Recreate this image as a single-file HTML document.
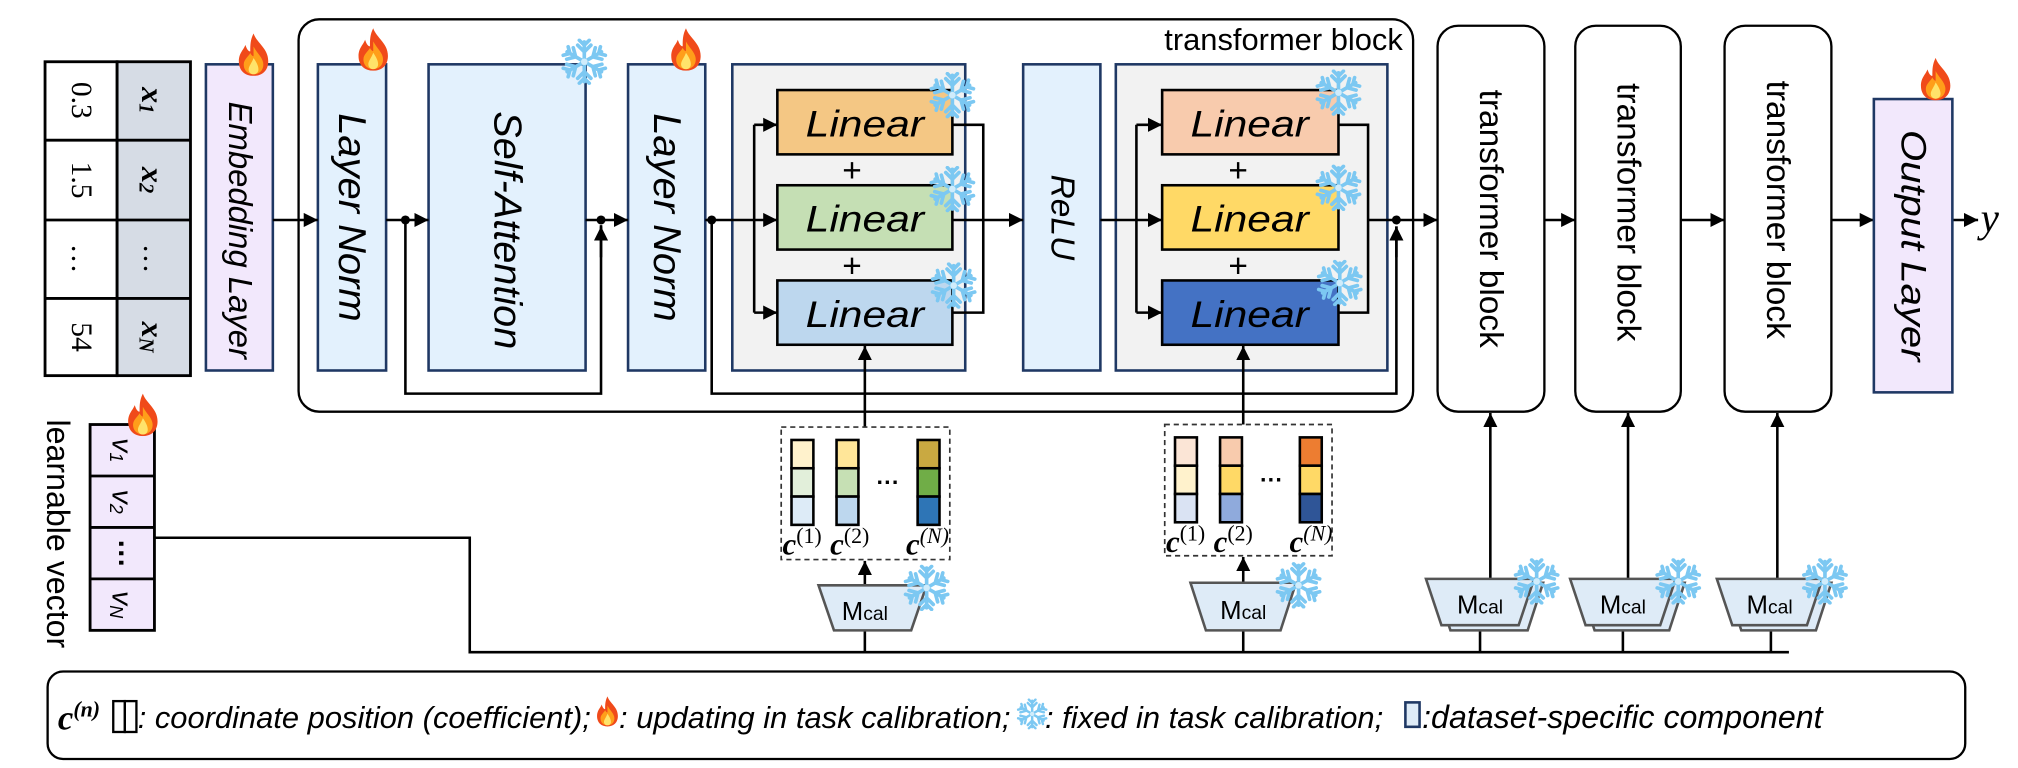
<!DOCTYPE html>
<html><head><meta charset="utf-8"><style>
html,body{margin:0;padding:0;background:#fff;}
svg{display:block;}
text{font-family:"Liberation Sans",sans-serif;}
.it{font-style:italic;}
.ser{font-family:"Liberation Serif",serif;}
</style></head><body>
<svg width="2018" height="768" viewBox="0 0 1568 597" preserveAspectRatio="none" xmlns="http://www.w3.org/2000/svg">
<defs>
<marker id="ar" viewBox="0 0 10 10" refX="10" refY="5" markerWidth="11" markerHeight="11" markerUnits="userSpaceOnUse" orient="auto"><path d="M0,0 L10,5 L0,10 z" fill="#000"/></marker>
<symbol id="fire" viewBox="0 0 20 26">
<path d="M10 0 C12 6 19 9 19 17 C19 23 15 26 10 26 C5 26 1 23 1 17 C1 12 4 10 5 7 C6 10 7 11 8 11 C8 7 8 4 10 0 Z" fill="#f04a1a"/>
<path d="M10 8 C12 12 16 15 16 19 C16 23 13 25 10 25 C7 25 4 23 4 19 C4 16 7 14 8 12 C9 14 10 14 10 14 C10 12 10 10 10 8 Z" fill="#ff9e1a"/>
<path d="M10 15 C12 18 13 20 13 22 C13 24 11.5 25 10 25 C8.5 25 7 24 7 22 C7 20 9 18 10 15 Z" fill="#ffe36a"/>
</symbol>
<symbol id="snow" viewBox="-14 -14 28 28">
<g stroke="#7cc8f2" stroke-width="2.2" stroke-linecap="round" fill="none">
<g id="arm"><line x1="0" y1="0" x2="0" y2="-12"/><polyline points="-4,-10 0,-6 4,-10"/><polyline points="-3,-13 0,-10 3,-13"/></g>
<use href="#arm" transform="rotate(60)"/><use href="#arm" transform="rotate(120)"/><use href="#arm" transform="rotate(180)"/><use href="#arm" transform="rotate(240)"/><use href="#arm" transform="rotate(300)"/>
</g>
<circle r="2" fill="#d0ecfb"/>
</symbol>
</defs>

<!-- input table -->
<g stroke="#000" stroke-width="2.2">
<rect x="35" y="48" width="56" height="244" fill="#fff"/>
<rect x="91" y="48" width="57" height="244" fill="#d6dce5"/>
<line x1="35" y1="109" x2="148" y2="109"/><line x1="35" y1="171" x2="148" y2="171"/><line x1="35" y1="232" x2="148" y2="232"/>
</g>
<g font-size="23" class="ser">
<text transform="translate(63,78) rotate(90)" text-anchor="middle" dominant-baseline="central" class="ser">0.3</text>
<text transform="translate(63,140) rotate(90)" text-anchor="middle" dominant-baseline="central" class="ser">1.5</text>
<text transform="translate(63,201) rotate(90)" text-anchor="middle" dominant-baseline="central" class="ser">…</text>
<text transform="translate(63,262) rotate(90)" text-anchor="middle" dominant-baseline="central" class="ser">54</text>
<text transform="translate(119,78) rotate(90)" text-anchor="middle" dominant-baseline="central" class="ser" font-style="italic" font-weight="bold" font-size="25">x<tspan font-size="16" dy="6">1</tspan></text>
<text transform="translate(119,140) rotate(90)" text-anchor="middle" dominant-baseline="central" class="ser" font-style="italic" font-weight="bold" font-size="25">x<tspan font-size="16" dy="6">2</tspan></text>
<text transform="translate(119,201) rotate(90)" text-anchor="middle" dominant-baseline="central" class="ser">…</text>
<text transform="translate(119,262) rotate(90)" text-anchor="middle" dominant-baseline="central" class="ser" font-style="italic" font-weight="bold" font-size="25">x<tspan font-size="16" dy="6">N</tspan></text>
</g>

<!-- embedding -->
<rect x="160" y="50" width="52" height="238" fill="#f2e8fc" stroke="#1f3864" stroke-width="2"/>
<text transform="translate(186,179) rotate(90)" text-anchor="middle" dominant-baseline="central" class="it" font-size="26" textLength="200" lengthAdjust="spacingAndGlyphs">Embedding Layer</text>
<use href="#fire" x="184" y="26" width="26" height="33"/>

<!-- big transformer block -->
<rect x="232" y="15" width="866" height="305" rx="16" fill="none" stroke="#000" stroke-width="1.8"/>
<text x="1090" y="39" text-anchor="end" font-size="24">transformer block</text>

<!-- LN1 -->
<rect x="247" y="50" width="53" height="238" fill="#e3f1fd" stroke="#1f3864" stroke-width="2"/>
<text transform="translate(273,169) rotate(90)" text-anchor="middle" dominant-baseline="central" class="it" font-size="30" textLength="162" lengthAdjust="spacingAndGlyphs">Layer Norm</text>
<use href="#fire" x="277" y="22" width="26" height="33"/>
<!-- SA -->
<rect x="333" y="50" width="122" height="238" fill="#e3f1fd" stroke="#1f3864" stroke-width="2"/>
<text transform="translate(394,179) rotate(90)" text-anchor="middle" dominant-baseline="central" class="it" font-size="30" textLength="185" lengthAdjust="spacingAndGlyphs">Self-Attention</text>
<use href="#snow" x="436" y="30" width="36" height="36"/>
<!-- LN2 -->
<rect x="488" y="50" width="60" height="238" fill="#e3f1fd" stroke="#1f3864" stroke-width="2"/>
<text transform="translate(518,169) rotate(90)" text-anchor="middle" dominant-baseline="central" class="it" font-size="30" textLength="162" lengthAdjust="spacingAndGlyphs">Layer Norm</text>
<use href="#fire" x="520" y="22" width="26" height="33"/>

<!-- grey1 -->
<rect x="569" y="50" width="181" height="238" fill="#f2f2f2" stroke="#1f3864" stroke-width="2"/>
<g stroke="#000" stroke-width="2" fill="none">
<polyline points="586,97 586,243"/><line x1="586" y1="97" x2="604" y2="97" marker-end="url(#ar)"/><line x1="586" y1="243" x2="604" y2="243" marker-end="url(#ar)"/>
<polyline points="740,97 764,97 764,243 740,243"/>
</g>
<rect x="604" y="70" width="136" height="50" fill="#f4c784" stroke="#000" stroke-width="2"/>
<rect x="604" y="144" width="136" height="50" fill="#c5dfb4" stroke="#000" stroke-width="2"/>
<rect x="604" y="218" width="136" height="50" fill="#bdd7ee" stroke="#000" stroke-width="2"/>
<g font-size="29" text-anchor="middle" dominant-baseline="central">
<text x="672" y="96" class="it" textLength="92" lengthAdjust="spacingAndGlyphs">Linear</text><text x="672" y="170" class="it" textLength="92" lengthAdjust="spacingAndGlyphs">Linear</text><text x="672" y="244" class="it" textLength="92" lengthAdjust="spacingAndGlyphs">Linear</text>
</g>
<text x="662" y="133" font-size="26" text-anchor="middle" dominant-baseline="central">+</text>
<text x="662" y="207" font-size="26" text-anchor="middle" dominant-baseline="central">+</text>
<use href="#snow" x="722" y="56" width="36" height="36"/><use href="#snow" x="722" y="129" width="36" height="36"/><use href="#snow" x="723" y="204" width="36" height="36"/>

<!-- ReLU -->
<rect x="795" y="50" width="60" height="238" fill="#e3f1fd" stroke="#1f3864" stroke-width="2"/>
<text transform="translate(825,169) rotate(90)" text-anchor="middle" dominant-baseline="central" class="it" font-size="26">ReLU</text>

<!-- grey2 -->
<rect x="867" y="50" width="211" height="238" fill="#f2f2f2" stroke="#1f3864" stroke-width="2"/>
<g stroke="#000" stroke-width="2" fill="none">
<polyline points="883,97 883,243"/><line x1="883" y1="97" x2="903" y2="97" marker-end="url(#ar)"/><line x1="883" y1="243" x2="903" y2="243" marker-end="url(#ar)"/>
<polyline points="1040,97 1063,97 1063,243 1040,243"/>
</g>
<rect x="903" y="70" width="137" height="50" fill="#f8cbad" stroke="#000" stroke-width="2"/>
<rect x="903" y="144" width="137" height="50" fill="#ffd966" stroke="#000" stroke-width="2"/>
<rect x="903" y="218" width="137" height="50" fill="#4472c4" stroke="#000" stroke-width="2"/>
<g font-size="29" text-anchor="middle" dominant-baseline="central">
<text x="971" y="96" class="it" textLength="92" lengthAdjust="spacingAndGlyphs">Linear</text><text x="971" y="170" class="it" textLength="92" lengthAdjust="spacingAndGlyphs">Linear</text><text x="971" y="244" class="it" textLength="92" lengthAdjust="spacingAndGlyphs">Linear</text>
</g>
<text x="962" y="133" font-size="26" text-anchor="middle" dominant-baseline="central">+</text>
<text x="962" y="207" font-size="26" text-anchor="middle" dominant-baseline="central">+</text>
<use href="#snow" x="1022" y="54" width="36" height="36"/><use href="#snow" x="1022" y="128" width="36" height="36"/><use href="#snow" x="1023" y="202" width="36" height="36"/>

<!-- main flow -->
<g stroke="#000" stroke-width="2" fill="none">
<line x1="212" y1="171" x2="247" y2="171" marker-end="url(#ar)"/>
<line x1="300" y1="171" x2="333" y2="171" marker-end="url(#ar)"/>
<line x1="455" y1="171" x2="488" y2="171" marker-end="url(#ar)"/>
<line x1="548" y1="171" x2="604" y2="171" marker-end="url(#ar)"/>
<line x1="740" y1="171" x2="795" y2="171" marker-end="url(#ar)"/>
<line x1="855" y1="171" x2="883" y2="171"/>
<line x1="883" y1="171" x2="903" y2="171" marker-end="url(#ar)"/>
<line x1="1063" y1="171" x2="1117" y2="171" marker-end="url(#ar)"/>
<polyline points="315,171 315,306 467,306 467,175"/>
<line x1="467" y1="200" x2="467" y2="176" marker-end="url(#ar)"/>
<polyline points="553,171 553,306 1085,306 1085,176"/>
<line x1="1085" y1="200" x2="1085" y2="176" marker-end="url(#ar)"/>
<line x1="1200" y1="171" x2="1224" y2="171" marker-end="url(#ar)"/>
<line x1="1306" y1="171" x2="1340" y2="171" marker-end="url(#ar)"/>
<line x1="1423" y1="171" x2="1456" y2="171" marker-end="url(#ar)"/>
<line x1="1517" y1="171" x2="1537" y2="171" marker-end="url(#ar)"/>
</g>
<circle cx="315" cy="171" r="3.5"/><circle cx="467" cy="171" r="3.5"/><circle cx="553" cy="171" r="3.5"/><circle cx="1085" cy="171" r="3.5"/>
<text x="1539" y="180" class="ser" font-style="italic" font-size="32">y</text>

<!-- transformer blocks -->
<g fill="#fff" stroke="#000" stroke-width="1.8">
<rect x="1117" y="20" width="83" height="300" rx="16"/>
<rect x="1224" y="20" width="82" height="300" rx="16"/>
<rect x="1340" y="20" width="83" height="300" rx="16"/>
</g>
<g font-size="26" text-anchor="middle" dominant-baseline="central">
<text transform="translate(1158,170) rotate(90)">transformer block</text>
<text transform="translate(1265,165) rotate(90)">transformer block</text>
<text transform="translate(1381,163) rotate(90)">transformer block</text>
</g>
<!-- output layer -->
<rect x="1456" y="77" width="61" height="228" fill="#f2e8fc" stroke="#1f3864" stroke-width="2"/>
<text transform="translate(1486,191) rotate(90)" text-anchor="middle" dominant-baseline="central" class="it" font-size="27" textLength="180" lengthAdjust="spacingAndGlyphs">Output Layer</text>
<use href="#fire" x="1491" y="45" width="26" height="33"/>

<!-- learnable vector -->
<text transform="translate(45,415) rotate(90)" text-anchor="middle" dominant-baseline="central" font-size="25">learnable vector</text>
<g stroke="#000" stroke-width="2.2">
<rect x="70" y="330" width="50" height="160" fill="#f2e8fc"/>
<line x1="70" y1="370" x2="120" y2="370"/><line x1="70" y1="410" x2="120" y2="410"/><line x1="70" y1="450" x2="120" y2="450"/>
</g>
<g class="ser" font-style="italic" font-size="22" text-anchor="middle" dominant-baseline="central">
<text transform="translate(95,350) rotate(90)">v<tspan font-size="14" dy="5">1</tspan></text>
<text transform="translate(95,390) rotate(90)">v<tspan font-size="14" dy="5">2</tspan></text>
<text transform="translate(95,430) rotate(90)" font-style="normal" font-weight="bold">⋯</text>
<text transform="translate(95,470) rotate(90)">v<tspan font-size="14" dy="5">N</tspan></text>
</g>
<use href="#fire" x="98" y="306" width="26" height="33"/>

<!-- bottom connections -->
<g stroke="#000" stroke-width="2" fill="none">
<polyline points="120,418 365,418 365,507 1390,507"/>
<line x1="672" y1="490" x2="672" y2="507"/><line x1="966" y1="490" x2="966" y2="507"/>
<line x1="1150" y1="487" x2="1150" y2="507"/><line x1="1261" y1="487" x2="1261" y2="507"/><line x1="1376" y1="487" x2="1376" y2="507"/>
<line x1="672" y1="332" x2="672" y2="269" marker-end="url(#ar)"/>
<line x1="966" y1="330" x2="966" y2="269" marker-end="url(#ar)"/>
<line x1="672" y1="455" x2="672" y2="436" marker-end="url(#ar)"/>
<line x1="966" y1="453" x2="966" y2="433" marker-end="url(#ar)"/>
<line x1="1158" y1="450" x2="1158" y2="321" marker-end="url(#ar)"/>
<line x1="1265" y1="450" x2="1265" y2="321" marker-end="url(#ar)"/>
<line x1="1381" y1="450" x2="1381" y2="321" marker-end="url(#ar)"/>
</g>

<!-- dashed boxes -->
<rect x="607" y="332" width="131" height="103" fill="#fff" stroke="#333" stroke-width="1.3" stroke-dasharray="4,3"/>
<rect x="905" y="330" width="130" height="102" fill="#fff" stroke="#333" stroke-width="1.3" stroke-dasharray="4,3"/>
<g stroke="#000" stroke-width="2">
<rect x="615" y="342" width="17" height="22" fill="#fff2cc"/><rect x="615" y="364" width="17" height="22" fill="#e2efda"/><rect x="615" y="386" width="17" height="22" fill="#ddebf7"/>
<rect x="650" y="342" width="17" height="22" fill="#ffe699"/><rect x="650" y="364" width="17" height="22" fill="#c6e0b4"/><rect x="650" y="386" width="17" height="22" fill="#bdd7ee"/>
<rect x="713" y="342" width="17" height="22" fill="#c9a941"/><rect x="713" y="364" width="17" height="22" fill="#70ad47"/><rect x="713" y="386" width="17" height="22" fill="#2e75b6"/>
<rect x="913" y="340" width="17" height="22" fill="#fbe5d6"/><rect x="913" y="362" width="17" height="22" fill="#fff2cc"/><rect x="913" y="384" width="17" height="22" fill="#dae3f3"/>
<rect x="948" y="340" width="17" height="22" fill="#f8cbad"/><rect x="948" y="362" width="17" height="22" fill="#ffd966"/><rect x="948" y="384" width="17" height="22" fill="#8faadc"/>
<rect x="1010" y="340" width="17" height="22" fill="#ed7d31"/><rect x="1010" y="362" width="17" height="22" fill="#ffd966"/><rect x="1010" y="384" width="17" height="22" fill="#2f5597"/>
</g>
<text x="690" y="381" font-size="18" font-weight="bold" text-anchor="middle">···</text>
<text x="988" y="379" font-size="18" font-weight="bold" text-anchor="middle">···</text>
<g class="ser" font-size="24">
<text x="608" y="431" class="ser"><tspan font-weight="bold" font-style="italic">c</tspan><tspan font-size="17" dy="-9">(1)</tspan></text>
<text x="645" y="431" class="ser"><tspan font-weight="bold" font-style="italic">c</tspan><tspan font-size="17" dy="-9">(2)</tspan></text>
<text x="704" y="431" class="ser"><tspan font-weight="bold" font-style="italic">c</tspan><tspan font-size="17" dy="-9" font-style="italic">(N)</tspan></text>
<text x="906" y="429" class="ser"><tspan font-weight="bold" font-style="italic">c</tspan><tspan font-size="17" dy="-9">(1)</tspan></text>
<text x="943" y="429" class="ser"><tspan font-weight="bold" font-style="italic">c</tspan><tspan font-size="17" dy="-9">(2)</tspan></text>
<text x="1002" y="429" class="ser"><tspan font-weight="bold" font-style="italic">c</tspan><tspan font-size="17" dy="-9" font-style="italic">(N)</tspan></text>
</g>

<!-- Mcal -->
<g stroke="#555" stroke-width="2" fill="#deebf7">
<path d="M636,455 L720,455 L708,490 L648,490 Z"/>
<path d="M925,453 L1007,453 L995,490 L937,490 Z"/>
<path d="M1115,453 L1199,453 L1187,490 L1127,490 Z"/>
<path d="M1108,450 L1192,450 L1180,486 L1120,486 Z"/>
<path d="M1227,453 L1309,453 L1297,490 L1239,490 Z"/>
<path d="M1220,450 L1302,450 L1290,486 L1232,486 Z"/>
<path d="M1341,453 L1423,453 L1411,490 L1353,490 Z"/>
<path d="M1334,450 L1416,450 L1404,486 L1346,486 Z"/>
</g>
<g font-size="20" text-anchor="middle">
<text x="672" y="482">M<tspan font-size="15">cal</tspan></text>
<text x="966" y="481">M<tspan font-size="15">cal</tspan></text>
<text x="1150" y="477">M<tspan font-size="15">cal</tspan></text>
<text x="1261" y="477">M<tspan font-size="15">cal</tspan></text>
<text x="1375" y="477">M<tspan font-size="15">cal</tspan></text>
</g>
<use href="#snow" x="702" y="439" width="36" height="36"/>
<use href="#snow" x="991" y="437" width="36" height="36"/>
<use href="#snow" x="1176" y="434" width="36" height="36"/>
<use href="#snow" x="1286" y="434" width="36" height="36"/>
<use href="#snow" x="1400" y="434" width="36" height="36"/>

<!-- legend -->
<rect x="37" y="522" width="1490" height="68" rx="12" fill="#fff" stroke="#000" stroke-width="1.8"/>
<text x="45" y="567" class="ser" font-size="27"><tspan font-weight="bold" font-style="italic">c</tspan><tspan font-size="17" dy="-10" font-weight="bold" font-style="italic">(n)</tspan></text>
<g stroke="#000" stroke-width="1.8" fill="#fff"><rect x="88" y="545" width="9" height="24"/><rect x="97" y="545" width="9" height="24"/></g>
<text x="107" y="566" class="it" font-size="24">: coordinate position (coefficient);</text>
<use href="#fire" x="463" y="541" width="18" height="24"/>
<text x="481" y="566" class="it" font-size="24">: updating in task calibration;</text>
<use href="#snow" x="790" y="543" width="24" height="24"/>
<text x="812" y="566" class="it" font-size="24">: fixed in task calibration;</text>
<rect x="1092" y="546" width="11" height="19" fill="#deebf7" stroke="#1f3864" stroke-width="2"/>
<text x="1105" y="566" class="it" font-size="25">:dataset-specific component</text>
</svg>
</body></html>
